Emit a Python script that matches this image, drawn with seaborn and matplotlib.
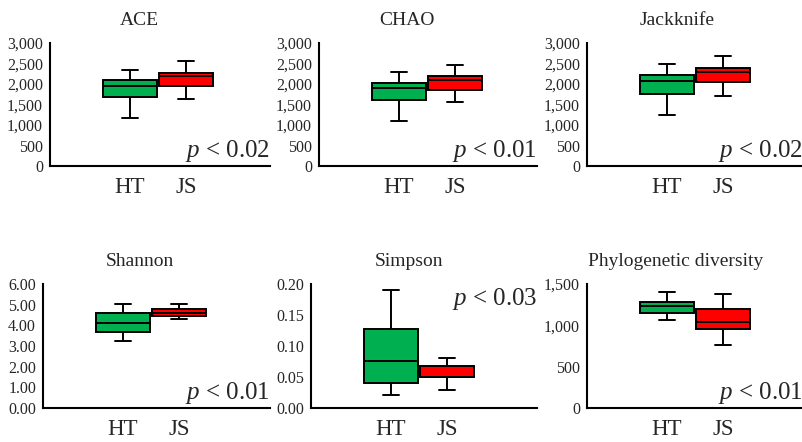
import numpy as np
import pandas as pd
import matplotlib
matplotlib.use("Agg")
import matplotlib.pyplot as plt
from matplotlib.ticker import FuncFormatter
import seaborn as sns

# -----------------------------
# DATA (whisker low, Q1, median, Q3, whisker high)
# -----------------------------
GROUPS = ["HT", "JS"]

ace_ht = [1174, 1671, 1957, 2087, 2348]
ace_js = [1630, 1940, 2185, 2274, 2552]

chao_ht = [1092, 1598, 1891, 2030, 2283]
chao_js = [1549, 1859, 2087, 2193, 2462]

jack_ht = [1234, 1757, 2068, 2223, 2485]
jack_js = [1717, 2044, 2297, 2395, 2690]

shannon_ht = [3.22, 3.70, 4.13, 4.61, 5.01]
shannon_js = [4.32, 4.43, 4.59, 4.77, 5.04]

simpson_ht = [0.0204, 0.0398, 0.0753, 0.128, 0.191]
simpson_js = [0.0296, 0.0495, 0.0500, 0.0677, 0.0806]

pd_ht = [1069, 1149, 1230, 1278, 1399]
pd_js = [762, 956, 1036, 1194, 1383]

titles = ["ACE", "CHAO", "Jackknife", "Shannon", "Simpson", "Phylogenetic diversity"]
pvals = ["0.02", "0.01", "0.02", "0.01", "0.03", "0.01"]
yticks = [
    np.arange(0, 3001, 500),
    np.arange(0, 3001, 500),
    np.arange(0, 3001, 500),
    np.arange(0, 6.01, 1.0),
    np.arange(0, 0.201, 0.05),
    np.arange(0, 1501, 500),
]
fmts = ["{:,.0f}", "{:,.0f}", "{:,.0f}", "{:.2f}", "{:.2f}", "{:,.0f}"]
series = [(ace_ht, ace_js), (chao_ht, chao_js), (jack_ht, jack_js),
          (shannon_ht, shannon_js), (simpson_ht, simpson_js), (pd_ht, pd_js)]

# -----------------------------
# STYLE
# -----------------------------
sns.set_style("white")
plt.rcParams["font.family"] = ["Liberation Serif", "DejaVu Serif"]
plt.rcParams["mathtext.fontset"] = "custom"
plt.rcParams["mathtext.it"] = "Liberation Serif:italic"
plt.rcParams["mathtext.rm"] = "Liberation Serif"

W, H = 803, 442
fig = plt.figure(figsize=(W / 100, H / 100), dpi=100)

# axes boxes in pixels: left, right, top, bottom
boxes_px = [
    (50, 270, 43, 166), (319, 537, 43, 166), (587, 803, 43, 166),
    (43, 270, 284, 408), (311, 537, 284, 408), (587, 803, 284, 408),
]
title_off = [89, 88, 90, 97, 98, 89]
p_top = [False, False, False, False, True, False]

for i, (l, r, t, b) in enumerate(boxes_px):
    ax = fig.add_axes([l / W, 1 - b / H, (r - l) / W, (b - t) / H])
    ht, js = series[i]
    df = pd.DataFrame({"group": ["HT"] * len(ht) + ["JS"] * len(js),
                       "value": ht + js})
    sns.boxplot(data=df, x="group", y="value", hue="group", order=GROUPS,
                palette=["#00B050", "#FF0000"], saturation=1, legend=False,
                width=0.95, whis=(0, 100), linecolor="black", linewidth=1.4,
                capwidths=0.3, ax=ax)

    # category 0 sits ~80 px from the left spine, 1 about 56 px further
    step = 56.0
    ax.set_xlim(-80 / step, -80 / step + (r - l) / step)
    ax.set_ylim(0, yticks[i][-1])
    ax.set_yticks(yticks[i])
    f = fmts[i]
    ax.yaxis.set_major_formatter(FuncFormatter(lambda v, _, f=f: f.format(v)))
    ax.tick_params(axis="y", length=0, pad=5, labelsize=11.5)
    ax.tick_params(axis="x", length=0, pad=8, labelsize=16.5)
    ax.set_xlabel("")
    ax.set_ylabel("")
    sns.despine(ax=ax)
    for s in ["left", "bottom"]:
        ax.spines[s].set_linewidth(1.5)
        ax.spines[s].set_color("black")

    ax.set_title(titles[i], fontsize=14, x=title_off[i] / (r - l), pad=13)

    yp = 0.83 if p_top[i] else 0.07
    ax.text(1.0, yp, f"$p$ < {pvals[i]}", transform=ax.transAxes,
            ha="right", va="baseline", fontsize=18)

fig.savefig("out.png", dpi=100)
